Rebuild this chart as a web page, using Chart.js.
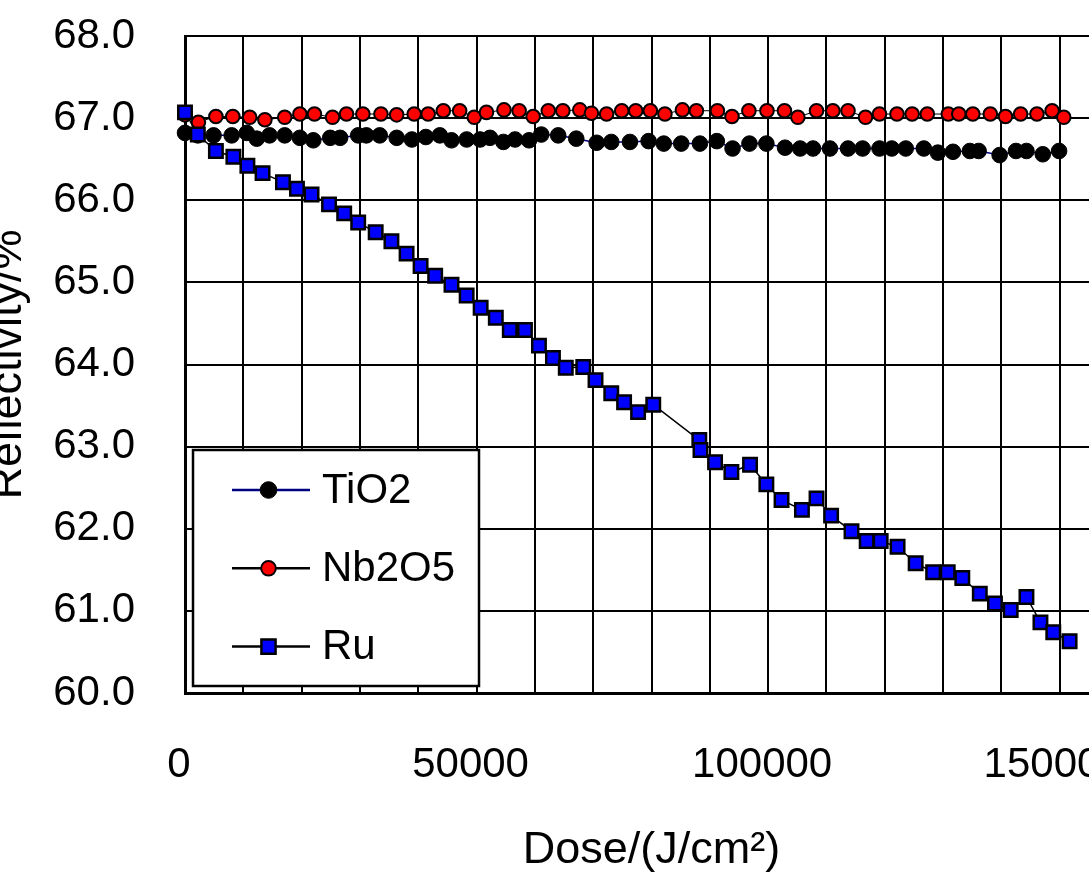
<!DOCTYPE html>
<html>
<head>
<meta charset="utf-8">
<script src="https://cdn.jsdelivr.net/npm/chart.js@4.4.1/dist/chart.umd.min.js"></script>
<style>
  html, body { margin: 0; padding: 0; background: #fff; overflow: hidden; width: 1089px; height: 886px; }
  #c { position: absolute; left: -22px; top: 0; }
</style>
</head>
<body>
<canvas id="c" width="1210" height="886"></canvas>
<script>
// ---- data ----
const seriesNames = ['TiO2', 'Nb2O5', 'Ru'];

const doseTiO2 = [0,2200,4900,8000,10600,12300,14500,17100,19700,22000,24900,26600,29700,31100,33400,36300,38900,41300,43700,45700,48300,50600,52300,54600,56600,59000,61100,64000,67100,70600,73100,76300,79500,82100,85100,88300,91200,93900,96800,99700,102900,105500,107700,110600,113700,116200,119100,121200,123600,126700,129100,131700,134600,136100,139700,142500,144300,147100,149900];
const reflTiO2 = [66.82,66.79,66.79,66.79,66.82,66.75,66.79,66.79,66.76,66.73,66.76,66.76,66.79,66.79,66.79,66.76,66.74,66.77,66.79,66.73,66.74,66.74,66.76,66.71,66.74,66.73,66.80,66.79,66.75,66.70,66.71,66.71,66.72,66.69,66.69,66.69,66.72,66.63,66.69,66.69,66.64,66.63,66.63,66.63,66.63,66.63,66.63,66.63,66.63,66.63,66.58,66.59,66.60,66.60,66.55,66.60,66.60,66.56,66.60];

const doseNb2O5 = [0,2300,5300,8200,11100,13700,17100,19700,22200,25300,27700,30500,33600,36300,39300,41700,44300,47100,49600,51700,54700,57300,59700,62300,64800,67700,69700,72300,74900,77300,79800,82300,85300,87700,91300,93800,96700,99800,102800,105100,108300,111100,113700,116700,119100,122100,124700,127300,130900,132700,135100,138100,140700,143300,146100,148700,150700];
const reflNb2O5 = [67.04,66.95,67.02,67.02,67.01,66.98,67.01,67.05,67.05,67.01,67.05,67.05,67.05,67.04,67.05,67.05,67.09,67.09,67.01,67.07,67.10,67.09,67.02,67.09,67.09,67.10,67.06,67.05,67.09,67.09,67.09,67.05,67.10,67.09,67.09,67.02,67.09,67.09,67.09,67.01,67.09,67.09,67.09,67.01,67.05,67.05,67.05,67.05,67.05,67.05,67.05,67.05,67.02,67.05,67.05,67.09,67.01];

const doseRu = [0,2200,5300,8300,10700,13300,16800,19200,21700,24700,27300,29700,32700,35400,38000,40400,42900,45700,48300,50700,53300,55700,58300,60700,63100,65300,68300,70400,73100,75300,77700,80300,88200,88400,90900,93700,96900,99700,102300,105800,108300,110800,114300,116900,119300,122200,125300,128300,130800,133300,136300,138900,141600,144300,146700,148900,151700];
const reflRu = [67.07,66.80,66.60,66.53,66.42,66.33,66.22,66.14,66.07,65.95,65.84,65.73,65.61,65.50,65.35,65.20,65.08,64.97,64.84,64.69,64.57,64.42,64.42,64.23,64.08,63.96,63.97,63.81,63.65,63.54,63.42,63.51,63.08,62.96,62.81,62.69,62.78,62.54,62.35,62.23,62.37,62.16,61.97,61.85,61.85,61.78,61.58,61.47,61.47,61.40,61.21,61.09,61.01,61.17,60.86,60.74,60.63];

const xTickLabels = [0, 50000, 100000, 150000];
const yTickLabels = ['60.0','61.0','62.0','63.0','64.0','65.0','66.0','67.0','68.0'];
const xTitle = 'Dose/(J/cm²)';
const yTitle = 'Reflectivity/%';

// ---- chart ----
const FONT = '"Liberation Sans", Arial, Helvetica, sans-serif';
Chart.defaults.font.family = FONT;
Chart.defaults.color = '#000';

function pts(xs, ys) { return xs.map((x, i) => ({ x: x, y: ys[i] })); }

const legendBox = {
  id: 'legendBox',
  afterDatasetsDraw(chart, args, o) {
    const ctx = chart.ctx, a = chart.chartArea;
    const x0 = a.left + o.offsetX, y0 = a.bottom - o.offsetY - o.height;
    ctx.save();
    ctx.fillStyle = '#fff';
    ctx.fillRect(x0, y0, o.width, o.height);
    ctx.lineWidth = 2.5;
    ctx.strokeStyle = '#000';
    ctx.strokeRect(x0, y0, o.width, o.height);
    chart.data.datasets.forEach((ds, i) => {
      const cy = y0 + o.firstRow + i * o.rowGap;
      ctx.strokeStyle = ds.borderColor;
      ctx.lineWidth = 2.5;
      ctx.beginPath();
      ctx.moveTo(x0 + o.lineStart, cy);
      ctx.lineTo(x0 + o.lineEnd, cy);
      ctx.stroke();
      ctx.fillStyle = ds.pointBackgroundColor;
      ctx.strokeStyle = ds.pointBorderColor;
      ctx.lineWidth = ds.pointBorderWidth;
      Chart.helpers.drawPoint(ctx, {
        pointStyle: ds.pointStyle, rotation: 0,
        radius: ds.pointRadius + 0.5, borderWidth: ds.pointBorderWidth
      }, x0 + o.markX, cy);
      ctx.fillStyle = '#000';
      ctx.font = '42px ' + FONT;
      ctx.textBaseline = 'middle';
      ctx.textAlign = 'left';
      ctx.fillText(ds.label, x0 + o.textX, cy + 1);
    });
    ctx.restore();
  }
};

new Chart(document.getElementById('c'), {
  type: 'line',
  data: {
    datasets: [
      {
        label: seriesNames[0], data: pts(doseTiO2, reflTiO2), order: 3, clip: false,
        borderColor: '#000080', borderWidth: 1.5, tension: 0,
        pointStyle: 'circle', pointRadius: 7.8,
        pointBackgroundColor: '#000', pointBorderColor: '#000', pointBorderWidth: 1
      },
      {
        label: seriesNames[1], data: pts(doseNb2O5, reflNb2O5), order: 2, clip: false,
        borderColor: '#000', borderWidth: 1, tension: 0,
        pointStyle: 'circle', pointRadius: 6.8,
        pointBackgroundColor: '#ff0000', pointBorderColor: '#000', pointBorderWidth: 2
      },
      {
        label: seriesNames[2], data: pts(doseRu, reflRu), order: 1, clip: false,
        borderColor: '#000', borderWidth: 1.5, tension: 0,
        pointStyle: 'rect', pointRadius: 9.5,
        pointBackgroundColor: '#0000ff', pointBorderColor: '#000', pointBorderWidth: 2.5
      }
    ]
  },
  options: {
    responsive: false,
    animation: false,
    devicePixelRatio: 1,
    layout: { padding: { left: 0, right: 70, top: 36, bottom: 0 } },
    plugins: {
      legend: { display: false },
      tooltip: { enabled: false },
      legendBox: {
        offsetX: 8, offsetY: 7, width: 286, height: 236,
        firstRow: 40, rowGap: 78.3,
        lineStart: 39, lineEnd: 117, markX: 75.5, textX: 129
      }
    },
    scales: {
      x: {
        type: 'linear', min: 0, max: 160000,
        grid: { color: '#000', lineWidth: 2, drawTicks: true, tickLength: 43, tickColor: 'rgba(0,0,0,0)' },
        border: { display: true, color: '#000', width: 3 },
        ticks: {
          stepSize: 10000, autoSkip: false, maxRotation: 0, minRotation: 0,
          padding: 4, labelOffset: -6,
          font: { size: 42 }, color: '#000',
          callback: (v) => xTickLabels.includes(v) ? String(v) : ''
        },
        title: {
          display: true, text: xTitle, color: '#000',
          font: { size: 45 }, padding: { top: 0, bottom: 8 }
        },
        afterFit: (s) => { s.height = 193; }
      },
      y: {
        type: 'linear', min: 60, max: 68,
        grid: { color: '#000', lineWidth: 2, drawTicks: true, tickLength: 46, tickColor: 'rgba(0,0,0,0)' },
        border: { display: true, color: '#000', width: 3 },
        ticks: {
          stepSize: 1, padding: 4,
          font: { size: 42 }, color: '#000',
          callback: (v) => yTickLabels[Math.round(v - 60)] ?? ''
        },
        title: {
          display: true, text: yTitle, color: '#000',
          font: { size: 45 }, padding: { top: 4, bottom: 0 }
        },
        afterFit: (s) => { s.width = 207; }
      }
    }
  },
  plugins: [legendBox]
});
</script>
</body>
</html>
